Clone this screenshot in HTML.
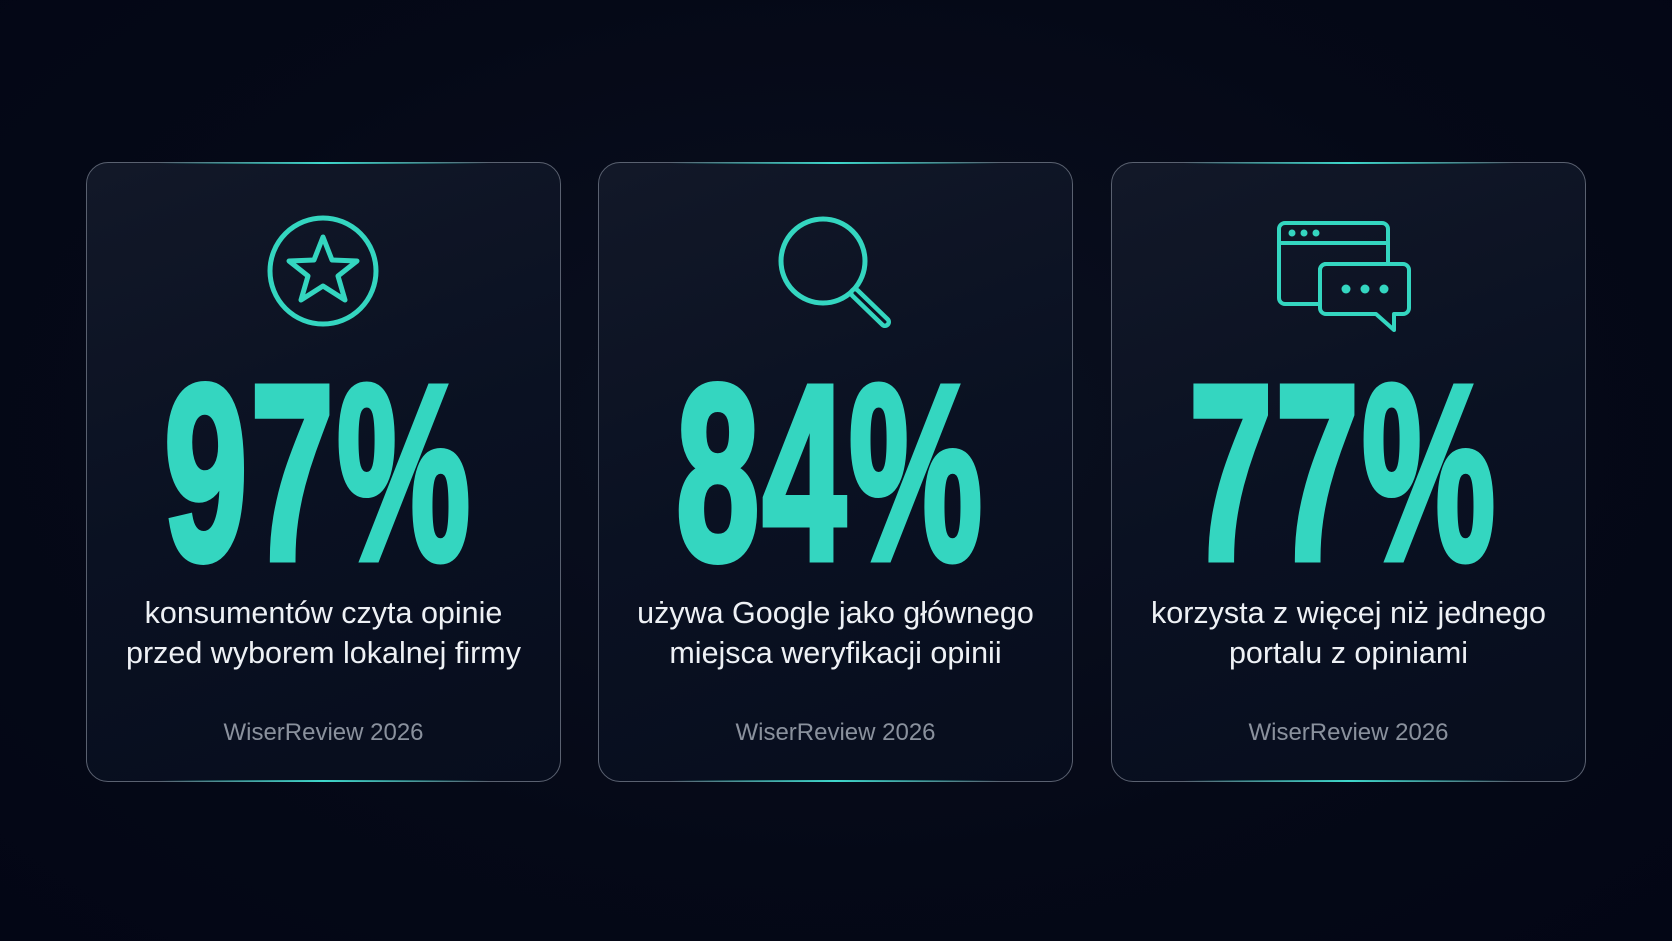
<!DOCTYPE html>
<html><head><meta charset="utf-8"><style>
html,body{margin:0;padding:0;}
body{width:1672px;height:941px;background:radial-gradient(ellipse at 50% 45%,#0a1020 0%,#050917 60%,#030615 100%);position:relative;overflow:hidden;font-family:"Liberation Sans",sans-serif;}
.card{position:absolute;top:162px;height:620px;width:475px;border:1.5px solid #5a6170;border-radius:22px;box-sizing:border-box;background:linear-gradient(160deg,#121828 0%,#0a1122 50%,#070d1d 100%);}
.card:before,.card:after{content:"";position:absolute;left:15%;right:15%;height:2px;background:linear-gradient(90deg,transparent,#3fd8cc,transparent);}
.card:before{top:-1px}.card:after{bottom:-1px}
.num{position:absolute;left:-26px;right:0;top:185px;text-align:center;color:#34d6c0;font-weight:bold;font-size:250px;line-height:250px;height:250px;}
.num span{display:inline-block;transform:scaleX(0.6);transform-origin:center;-webkit-text-stroke:7px #34d6c0;letter-spacing:5px;}
.txt{position:absolute;left:0;right:0;top:430px;text-align:center;color:#eef1f5;font-size:30.5px;line-height:40px;}
.src{position:absolute;left:0;right:0;top:556px;text-align:center;color:#8a919d;font-size:24px;}
svg{position:absolute;left:0;top:0;}
</style></head><body>
<div class="card" style="left:86px">
<svg width="475" height="200"><circle cx="236" cy="108" r="53" fill="none" stroke="#34d6c0" stroke-width="5"/>
<polygon points="236,74 245,97 270,98 251,113 258,137 236,123 214,137 221,113 202,98 227,97" fill="none" stroke="#34d6c0" stroke-width="5" stroke-linejoin="round"/></svg>
<div class="num"><span>97%</span></div>
<div class="txt">konsumentów czyta opinie<br>przed wyborem lokalnej firmy</div>
<div class="src">WiserReview 2026</div></div>
<div class="card" style="left:598px">
<svg width="475" height="200"><circle cx="224" cy="98" r="42" fill="none" stroke="#34d6c0" stroke-width="5"/>
<line x1="256" y1="130" x2="286" y2="159" stroke="#34d6c0" stroke-width="12" stroke-linecap="round"/>
<line x1="256" y1="130" x2="286" y2="159" stroke="#0a1122" stroke-width="3" stroke-linecap="round"/></svg>
<div class="num"><span>84%</span></div>
<div class="txt">używa Google jako głównego<br>miejsca weryfikacji opinii</div>
<div class="src">WiserReview 2026</div></div>
<div class="card" style="left:1111px">
<svg width="475" height="200">
<path d="M173 60 H270 a6 6 0 0 1 6 6 V101 H214 a6 6 0 0 0 -6 6 V141 H173 a6 6 0 0 1 -6 -6 V66 a6 6 0 0 1 6 -6 Z" fill="none" stroke="#34d6c0" stroke-width="4"/>
<line x1="167" y1="80" x2="276" y2="80" stroke="#34d6c0" stroke-width="4"/>
<circle cx="180" cy="70" r="3.5" fill="#34d6c0"/><circle cx="192" cy="70" r="3.5" fill="#34d6c0"/><circle cx="204" cy="70" r="3.5" fill="#34d6c0"/>
<path d="M214 101 H291 a6 6 0 0 1 6 6 V145 a6 6 0 0 1 -6 6 H282 V167 L264 151 H214 a6 6 0 0 1 -6 -6 V107 a6 6 0 0 1 6 -6 Z" fill="none" stroke="#34d6c0" stroke-width="4" stroke-linejoin="round"/>
<circle cx="234" cy="126" r="4.5" fill="#34d6c0"/><circle cx="253" cy="126" r="4.5" fill="#34d6c0"/><circle cx="272" cy="126" r="4.5" fill="#34d6c0"/></svg>
<div class="num"><span>77%</span></div>
<div class="txt">korzysta z więcej niż jednego<br>portalu z opiniami</div>
<div class="src">WiserReview 2026</div></div>
</body></html>
